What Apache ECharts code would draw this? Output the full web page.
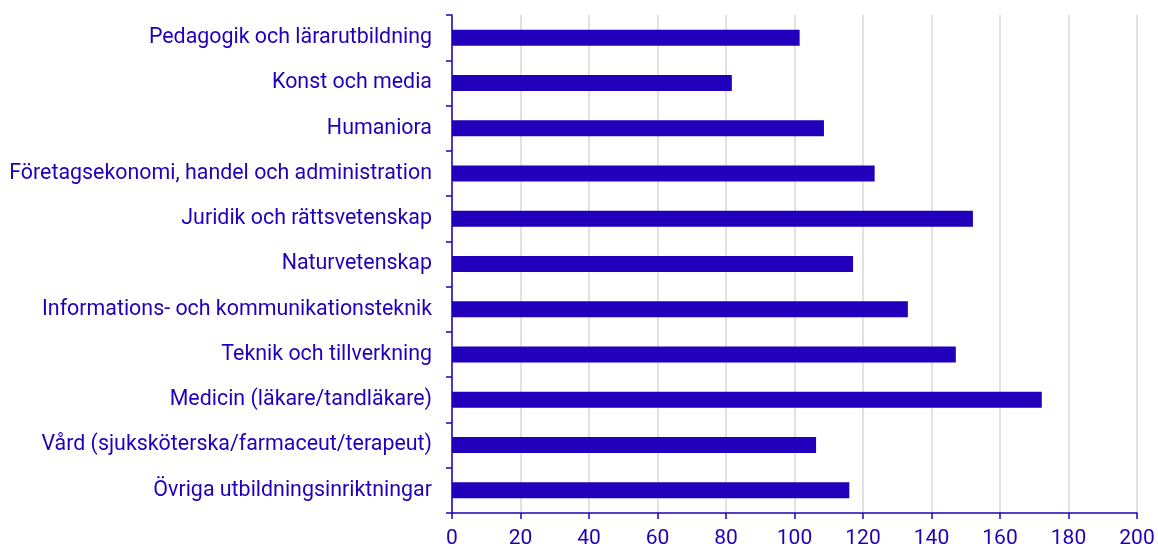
<!DOCTYPE html>
<html>
<head>
<meta charset="utf-8">
<script src="https://cdn.jsdelivr.net/npm/echarts@6/dist/echarts.min.js"></script>
<style>
  html, body { margin: 0; padding: 0; background: #fff; }
  #chart { width: 1158px; height: 549px; }
</style>
</head>
<body>
<div id="chart"></div>
<script>
// kategorier uppifrån och ned
const categories = [
  "Pedagogik och lärarutbildning",
  "Konst och media",
  "Humaniora",
  "Företagsekonomi, handel och administration",
  "Juridik och rättsvetenskap",
  "Naturvetenskap",
  "Informations- och kommunikationsteknik",
  "Teknik och tillverkning",
  "Medicin (läkare/tandläkare)",
  "Vård (sjuksköterska/farmaceut/terapeut)",
  "Övriga utbildningsinriktningar"
];
const values = [101.5, 81.7, 108.6, 123.4, 152.1, 117.1, 133.1, 147.1, 172.2, 106.3, 116.0];

const blue = "#2200bb";
const font = "Roboto, sans-serif";

const chart = echarts.init(document.getElementById("chart"));
chart.setOption({
  animation: false,
  grid: { left: 452, right: 21, top: 15, bottom: 35, containLabel: false },
  xAxis: {
    type: "value",
    min: 0,
    max: 200,
    interval: 20,
    axisLine: { show: true, lineStyle: { color: blue, width: 1.5 } },
    axisTick: { show: true, length: 6, lineStyle: { color: blue, width: 1.5 } },
    axisLabel: { color: blue, fontSize: 21, fontFamily: font, margin: 15 },
    splitLine: { show: true, lineStyle: { color: "#d9d9d9", width: 1.5 } }
  },
  yAxis: {
    type: "category",
    data: categories,
    inverse: true,
    axisLine: { show: true, lineStyle: { color: blue, width: 1.5 } },
    axisTick: { show: true, length: 6, lineStyle: { color: blue, width: 1.5 } },
    axisLabel: { color: blue, fontSize: 21.4, fontFamily: font, margin: 20 },
    splitLine: { show: false }
  },
  series: [{
    type: "bar",
    data: values,
    barWidth: 16,
    itemStyle: { color: blue }
  }]
});
</script>
</body>
</html>
